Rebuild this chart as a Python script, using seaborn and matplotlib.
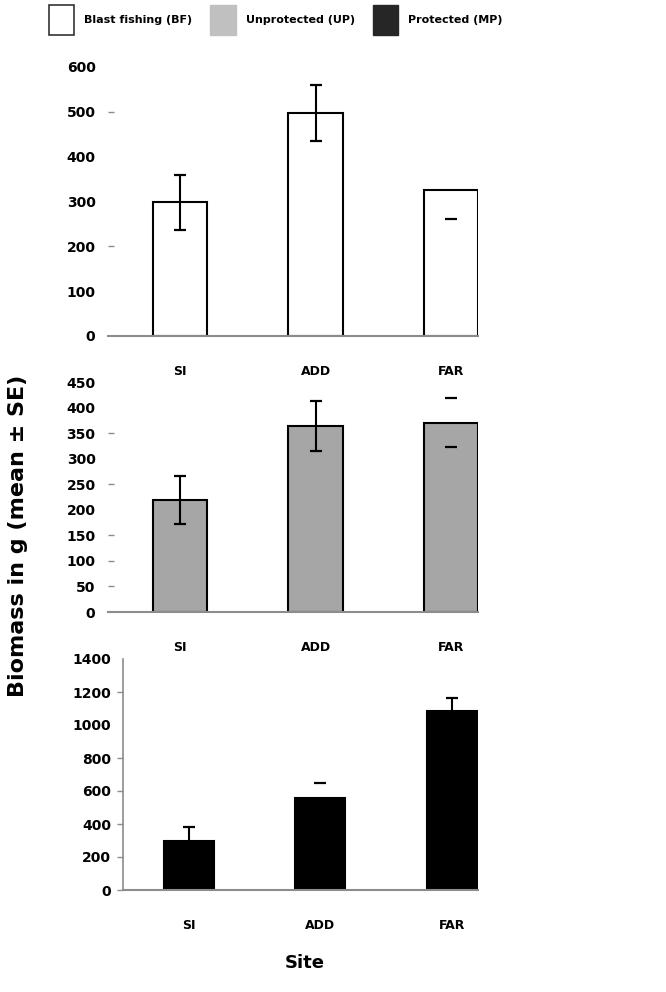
import matplotlib
matplotlib.use("Agg")
import matplotlib.pyplot as plt
import seaborn as sns
import numpy as np
from matplotlib.patches import Patch
from matplotlib.ticker import FixedLocator

# Data
sites = ["SI", "ADD", "FAR"]

bf_mean = [298, 497, 325]
bf_lo = [61, 62, 64]
bf_hi = [61, 62, 0]

up_mean = [220, 364, 370]
up_lo = [47, 49, 48]
up_hi = [47, 49, 48]

mp_mean = [299, 557, 1085]
mp_lo = [0, 0, 0]
mp_hi = [85, 93, 80]

legend_labels = ["Blast fishing (BF)", "Unprotected (UP)", "Protected (MP)"]

sns.set_style("white")
plt.rcParams["font.family"] = ["DejaVu Sans"]
plt.rcParams["text.color"] = "black"
plt.rcParams["xtick.color"] = "black"
plt.rcParams["ytick.color"] = "black"

fig = plt.figure(figsize=(6.66, 9.92), dpi=100)

W, H = 666.0, 992.0


def px_axes(x0, x1, ytop, ybot):
    return fig.add_axes([x0 / W, 1 - ybot / H, (x1 - x0) / W, (ybot - ytop) / H])


panels = [
    # axes pixel box, means, errors, fill, ylim, tick step, visible tick marks, error line flags
    dict(box=(108, 478, 67, 336), mean=bf_mean, lo=bf_lo, hi=bf_hi, fill="white",
         ylim=600, step=100, marks=[500, 200], line=[True, True, False], left=False,
         xlim=(-0.533, 2.2), width=0.4),
    dict(box=(108, 478, 382, 612), mean=up_mean, lo=up_lo, hi=up_hi, fill="#a6a6a6",
         ylim=450, step=50, marks=[350, 250, 150, 100, 50], line=[True, True, False], left=False,
         xlim=(-0.533, 2.2), width=0.4),
    dict(box=(123, 478, 659, 890), mean=mp_mean, lo=mp_lo, hi=mp_hi, fill="black",
         ylim=1400, step=200, marks=[1200, 800, 600, 400, 200, 0], line=[True, False, True], left=True,
         xlim=(-0.498, 2.2), width=0.38),
]

axis_grey = "#8c8c8c"

for p in panels:
    ax = px_axes(*p["box"])
    sns.barplot(x=sites, y=p["mean"], color=p["fill"], edgecolor="black", linewidth=1.5,
                width=p["width"], saturation=1, errorbar=None, ax=ax)
    x = np.arange(len(sites))
    mean = np.array(p["mean"], dtype=float)
    lo = np.array(p["lo"], dtype=float)
    hi = np.array(p["hi"], dtype=float)
    for i in range(len(sites)):
        if p["line"][i]:
            ax.vlines(x[i], mean[i] - lo[i], mean[i] + hi[i], color="black", lw=1.5, zorder=5)
        if lo[i] > 0:
            ax.plot(x[i], mean[i] - lo[i], marker="_", ms=8, mew=1.6, color="black", zorder=5)
        if hi[i] > 0:
            ax.plot(x[i], mean[i] + hi[i], marker="_", ms=8, mew=1.6, color="black", zorder=5)

    ax.set_xlim(*p["xlim"])
    ax.set_ylim(0, p["ylim"])
    ax.set_yticks(np.arange(0, p["ylim"] + 1, p["step"]))
    ax.set_xlabel("")
    ax.set_ylabel("")

    for s in ["top", "right"]:
        ax.spines[s].set_visible(False)
    ax.spines["bottom"].set_color(axis_grey)
    ax.spines["bottom"].set_linewidth(1.5)
    ax.spines["left"].set_visible(p["left"])
    ax.spines["left"].set_color(axis_grey)
    ax.spines["left"].set_linewidth(1.2)

    if p["left"]:
        ax.tick_params(axis="y", direction="out", length=4.5, width=1, color=axis_grey, pad=4,
                       labelsize=10, labelcolor="black")
    else:
        ax.tick_params(axis="y", direction="in", length=4.5, width=1, color=axis_grey, pad=9,
                       labelsize=10, labelcolor="black")
    for t, val in zip(ax.yaxis.get_major_ticks(), ax.get_yticks()):
        t.tick1line.set_visible(val in p["marks"])
    for lab in ax.get_yticklabels():
        lab.set_fontweight("bold")

    ax.tick_params(axis="x", which="major", length=0, pad=21, labelsize=9, labelcolor="black")
    for lab in ax.get_xticklabels():
        lab.set_fontweight("bold")
    ax.xaxis.set_minor_locator(FixedLocator([1.5]))
    ax.tick_params(axis="x", which="minor", direction="out", length=5, width=1, color=axis_grey)

# Legend across the top
handles = [
    Patch(facecolor="white", edgecolor="#333333", linewidth=1.2),
    Patch(facecolor="#c0c0c0", edgecolor="#c0c0c0"),
    Patch(facecolor="#262626", edgecolor="#262626"),
]
leg = fig.legend(handles, legend_labels, loc="center left", bbox_to_anchor=(0.058, 0.98),
                 ncol=3, frameon=False, handlelength=2.3, handleheight=3.8,
                 handletextpad=0.9, columnspacing=1.6,
                 prop={"weight": "bold", "size": 8})

fig.text(0.027, 0.46, "Biomass in g (mean \u00b1 SE)", rotation=90, ha="center", va="center",
         fontsize=16, fontweight="bold")
fig.text(0.458, 0.029, "Site", ha="center", va="center", fontsize=13, fontweight="bold")

fig.savefig("out.png", dpi=100)
